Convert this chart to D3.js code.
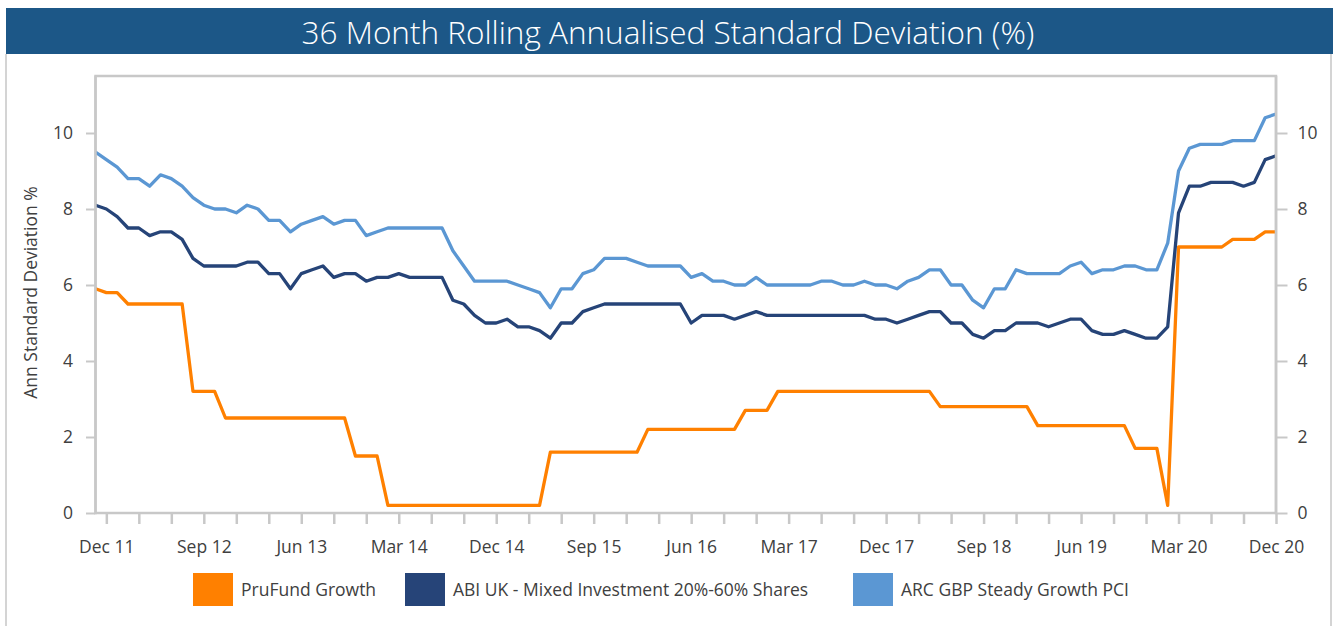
<!DOCTYPE html>
<html>
<head>
<meta charset="utf-8">
<script src="https://cdn.jsdelivr.net/npm/d3@7/dist/d3.min.js"></script>
<style>
  html, body { margin: 0; padding: 0; background: #fff; }
  svg { display: block; }
  text { font-family: "Open Sans", "Noto Sans", sans-serif; }
</style>
</head>
<body>
<svg id="chart" width="1333" height="626"></svg>
<script>
// ---- data ----
const title = "36 Month Rolling Annualised Standard Deviation (%)";
const yAxisTitle = "Ann Standard Deviation %";
const seriesNames = ["PruFund Growth", "ABI UK - Mixed Investment 20%-60% Shares", "ARC GBP Steady Growth PCI"];
const seriesColors = ["#ff8000", "#264478", "#5b97d3"];
const startMonth = new Date(2011, 10, 1); // Nov 2011
const endMonth = new Date(2020, 11, 1);   // Dec 2020
const months = d3.timeMonth.range(startMonth, d3.timeMonth.offset(endMonth, 1));
const yTicks = [0, 2, 4, 6, 8, 10];

const pruFund = [
  5.9, 5.8, 5.8, 5.5, 5.5, 5.5, 5.5, 5.5, 5.5, 3.2,
  3.2, 3.2, 2.5, 2.5, 2.5, 2.5, 2.5, 2.5, 2.5, 2.5,
  2.5, 2.5, 2.5, 2.5, 1.5, 1.5, 1.5, 0.2, 0.2, 0.2,
  0.2, 0.2, 0.2, 0.2, 0.2, 0.2, 0.2, 0.2, 0.2, 0.2,
  0.2, 0.2, 1.6, 1.6, 1.6, 1.6, 1.6, 1.6, 1.6, 1.6,
  1.6, 2.2, 2.2, 2.2, 2.2, 2.2, 2.2, 2.2, 2.2, 2.2,
  2.7, 2.7, 2.7, 3.2, 3.2, 3.2, 3.2, 3.2, 3.2, 3.2,
  3.2, 3.2, 3.2, 3.2, 3.2, 3.2, 3.2, 3.2, 2.8, 2.8,
  2.8, 2.8, 2.8, 2.8, 2.8, 2.8, 2.8, 2.3, 2.3, 2.3,
  2.3, 2.3, 2.3, 2.3, 2.3, 2.3, 1.7, 1.7, 1.7, 0.2,
  7.0, 7.0, 7.0, 7.0, 7.0, 7.2, 7.2, 7.2, 7.4, 7.4
];
const abiMixed = [
  8.1, 8.0, 7.8, 7.5, 7.5, 7.3, 7.4, 7.4, 7.2, 6.7,
  6.5, 6.5, 6.5, 6.5, 6.6, 6.6, 6.3, 6.3, 5.9, 6.3,
  6.4, 6.5, 6.2, 6.3, 6.3, 6.1, 6.2, 6.2, 6.3, 6.2,
  6.2, 6.2, 6.2, 5.6, 5.5, 5.2, 5.0, 5.0, 5.1, 4.9,
  4.9, 4.8, 4.6, 5.0, 5.0, 5.3, 5.4, 5.5, 5.5, 5.5,
  5.5, 5.5, 5.5, 5.5, 5.5, 5.0, 5.2, 5.2, 5.2, 5.1,
  5.2, 5.3, 5.2, 5.2, 5.2, 5.2, 5.2, 5.2, 5.2, 5.2,
  5.2, 5.2, 5.1, 5.1, 5.0, 5.1, 5.2, 5.3, 5.3, 5.0,
  5.0, 4.7, 4.6, 4.8, 4.8, 5.0, 5.0, 5.0, 4.9, 5.0,
  5.1, 5.1, 4.8, 4.7, 4.7, 4.8, 4.7, 4.6, 4.6, 4.9,
  7.9, 8.6, 8.6, 8.7, 8.7, 8.7, 8.6, 8.7, 9.3, 9.4
];
const arcSteady = [
  9.5, 9.3, 9.1, 8.8, 8.8, 8.6, 8.9, 8.8, 8.6, 8.3,
  8.1, 8.0, 8.0, 7.9, 8.1, 8.0, 7.7, 7.7, 7.4, 7.6,
  7.7, 7.8, 7.6, 7.7, 7.7, 7.3, 7.4, 7.5, 7.5, 7.5,
  7.5, 7.5, 7.5, 6.9, 6.5, 6.1, 6.1, 6.1, 6.1, 6.0,
  5.9, 5.8, 5.4, 5.9, 5.9, 6.3, 6.4, 6.7, 6.7, 6.7,
  6.6, 6.5, 6.5, 6.5, 6.5, 6.2, 6.3, 6.1, 6.1, 6.0,
  6.0, 6.2, 6.0, 6.0, 6.0, 6.0, 6.0, 6.1, 6.1, 6.0,
  6.0, 6.1, 6.0, 6.0, 5.9, 6.1, 6.2, 6.4, 6.4, 6.0,
  6.0, 5.6, 5.4, 5.9, 5.9, 6.4, 6.3, 6.3, 6.3, 6.3,
  6.5, 6.6, 6.3, 6.4, 6.4, 6.5, 6.5, 6.4, 6.4, 7.1,
  9.0, 9.6, 9.7, 9.7, 9.7, 9.8, 9.8, 9.8, 10.4, 10.5
];
const seriesValues = [pruFund, abiMixed, arcSteady];

// ---- layout ----
const svg = d3.select("#chart");
const plot = { left: 95.5, right: 1276, top: 76, bottom: 513 };
const gridGray = "#c8c8c8";
const textColor = "#404040";
const fontSize = 17.5;
const monthFmt = d3.timeFormat("%b %y");

const x = d3.scalePoint().domain(d3.range(months.length)).range([plot.left, plot.right]);
const y = d3.scaleLinear().domain([0, 11.5]).range([plot.bottom, plot.top]);

// outer frame
svg.append("line").attr("x1", 6).attr("x2", 6).attr("y1", 54).attr("y2", 626)
  .attr("stroke", "#d4d4d4").attr("stroke-width", 2);
svg.append("line").attr("x1", 1331).attr("x2", 1331).attr("y1", 54).attr("y2", 626)
  .attr("stroke", "#d4d4d4").attr("stroke-width", 2);

// title bar
svg.append("rect").attr("x", 6).attr("y", 8).attr("width", 1327).attr("height", 46)
  .attr("fill", "#1c5787");
svg.append("text").attr("x", 668).attr("y", 44).attr("text-anchor", "middle")
  .attr("fill", "#fff").attr("font-size", 31.5).attr("font-weight", 300).text(title);

// plot frame
svg.append("rect").attr("x", plot.left).attr("y", plot.top)
  .attr("width", plot.right - plot.left).attr("height", plot.bottom - plot.top)
  .attr("fill", "none").attr("stroke", gridGray).attr("stroke-width", 2.5);

// x axis
const tickIdx = d3.range(1, months.length, 3);
const labelIdx = d3.range(1, months.length, 9);
const xAxis = d3.axisBottom(x).tickValues(tickIdx).tickSize(11).tickSizeOuter(0)
  .tickFormat(i => labelIdx.includes(i) ? monthFmt(months[i]) : "");
const gx = svg.append("g").attr("transform", `translate(0,${plot.bottom})`).call(xAxis);
gx.select(".domain").remove();
gx.selectAll(".tick line").attr("stroke", gridGray).attr("stroke-width", 2.5);
gx.selectAll(".tick text").attr("fill", textColor).attr("font-size", fontSize)
  .attr("font-family", "'Open Sans', sans-serif").attr("dy", 0).attr("y", 40);

// left y axis
const yAxisL = d3.axisLeft(y).tickValues(yTicks).tickSize(9).tickPadding(13).tickSizeOuter(0);
const gyl = svg.append("g").attr("transform", `translate(${plot.left - 0.5},0)`).call(yAxisL);
gyl.select(".domain").remove();
gyl.selectAll(".tick line").attr("stroke", gridGray).attr("stroke-width", 2);
gyl.selectAll(".tick text").attr("fill", textColor).attr("font-size", fontSize)
  .attr("font-family", "'Open Sans', sans-serif");

// right y axis
const yAxisR = d3.axisRight(y).tickValues(yTicks).tickSize(11).tickPadding(10).tickSizeOuter(0);
const gyr = svg.append("g").attr("transform", `translate(${plot.right + 0.5},0)`).call(yAxisR);
gyr.select(".domain").remove();
gyr.selectAll(".tick line").attr("stroke", gridGray).attr("stroke-width", 2);
gyr.selectAll(".tick text").attr("fill", textColor).attr("font-size", fontSize)
  .attr("font-family", "'Open Sans', sans-serif");

// y axis title
svg.append("text").attr("transform", `translate(37,${(plot.top + plot.bottom) / 2 - 2}) rotate(-90)`)
  .attr("text-anchor", "middle").attr("fill", textColor).attr("font-size", fontSize).text(yAxisTitle);

// lines
const line = d3.line().x((d, i) => x(i)).y(d => y(d));
svg.append("clipPath").attr("id", "plotclip").append("rect")
  .attr("x", plot.left).attr("y", plot.top - 5)
  .attr("width", plot.right - plot.left).attr("height", plot.bottom - plot.top + 5);
seriesValues.forEach((vals, k) => {
  svg.append("path").datum(vals).attr("d", line)
    .attr("fill", "none").attr("stroke", seriesColors[k]).attr("stroke-width", 3.3)
    .attr("stroke-linejoin", "round").attr("clip-path", "url(#plotclip)");
});
// redraw frame edges on top of line starts
svg.append("line").attr("x1", plot.left).attr("x2", plot.left).attr("y1", plot.top).attr("y2", plot.bottom + 1.25)
  .attr("stroke", gridGray).attr("stroke-width", 2.5);
svg.append("line").attr("x1", plot.right).attr("x2", plot.right).attr("y1", plot.top).attr("y2", plot.bottom + 1.25)
  .attr("stroke", gridGray).attr("stroke-width", 2.5);

// legend
const legendX = [193, 405, 853];
const lg = svg.append("g");
seriesNames.forEach((name, k) => {
  lg.append("rect").attr("x", legendX[k]).attr("y", 573).attr("width", 40).attr("height", 33)
    .attr("fill", seriesColors[k]);
  lg.append("text").attr("x", legendX[k] + 48).attr("y", 596).attr("fill", textColor)
    .attr("font-size", fontSize).text(name);
});
</script>
</body>
</html>
